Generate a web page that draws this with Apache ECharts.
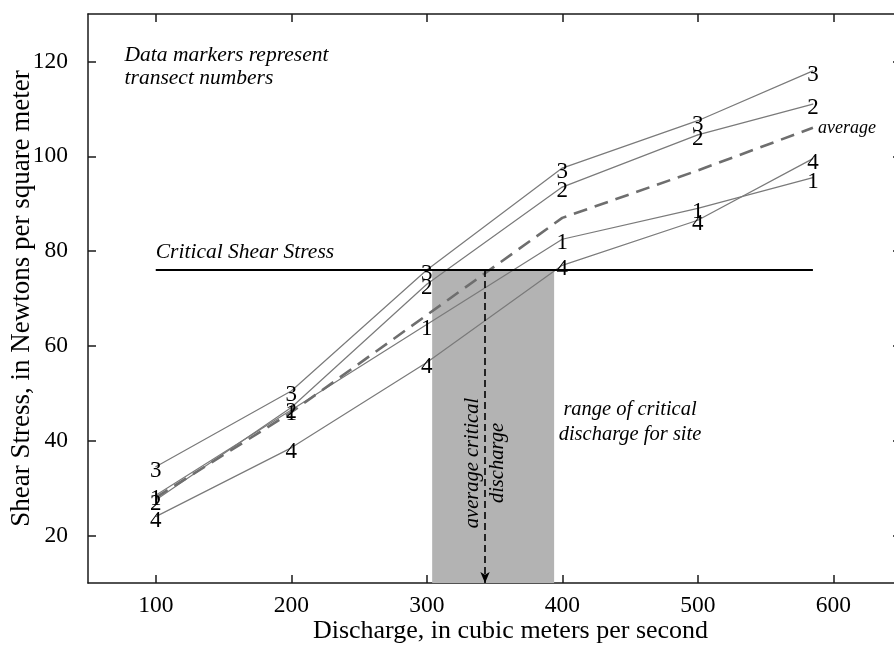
<!DOCTYPE html>
<html>
<head>
<meta charset="utf-8">
<script src="https://cdn.jsdelivr.net/npm/echarts@6/dist/echarts.min.js"></script>
<style>
  html, body { margin: 0; padding: 0; background: #fff; }
  #chart { width: 894px; height: 653px; }
</style>
</head>
<body>
<div id="chart"></div>
<script>
// Discharge (m³/s) at which each transect was evaluated
const discharge = [100, 200, 300, 400, 500, 585];

// Shear stress (N/m²) per transect
const transect1 = [28.5, 46.5, 64.5, 82.5, 89, 95.5];
const transect2 = [27.5, 47, 73, 93.5, 104.5, 111];
const transect3 = [34.5, 50.5, 76, 97.5, 107.5, 118];
const transect4 = [24, 38.5, 56.5, 77, 86.5, 99.5];
const averageStress = [28, 46, 66.5, 87, 97, 106];

// Critical shear stress and discharge range for the site
const criticalStress = 76;
const criticalRange = [304, 394];
const averageCriticalDischarge = 343;

const xTicks = [100, 200, 300, 400, 500, 600];
const yTicks = [20, 40, 60, 80, 100, 120];

const SERIF = '"Liberation Serif", "Times New Roman", serif';
const LINE_GRAY = '#7a7a7a';

const zip = (xs, ys) => xs.map((x, i) => [x, ys[i]]);

function transectSeries(name, values) {
  return {
    name: name,
    type: 'line',
    data: zip(discharge, values),
    z: 3,
    symbol: 'circle',
    symbolSize: 1,
    itemStyle: { color: LINE_GRAY },
    lineStyle: { color: LINE_GRAY, width: 1.2 },
    label: {
      show: true,
      position: 'inside',
      offset: [0, 4],
      formatter: name,
      fontFamily: SERIF,
      fontSize: 23,
      color: '#000'
    },
    animation: false
  };
}

const chart = echarts.init(document.getElementById('chart'), null, { renderer: 'canvas' });

const axisLineStyle = { color: '#1a1a1a', width: 1.5 };

const option = {
  backgroundColor: '#fff',
  animation: false,
  grid: { left: 88, top: 14, right: -7, bottom: 70, containLabel: false, outerBoundsMode: 'none' },
  xAxis: [
    {
      type: 'value', min: 50, max: 650,
      name: 'Discharge, in cubic meters per second',
      nameLocation: 'middle', nameGap: 35,
      nameMoveOverlap: false,
      nameTextStyle: { fontFamily: SERIF, fontSize: 26, color: '#000', padding: [0, 0, 0, 32] },
      axisLine: { show: true, onZero: false, lineStyle: axisLineStyle },
      axisTick: { show: true, inside: true, length: 8, customValues: xTicks, lineStyle: axisLineStyle },
      axisLabel: { customValues: xTicks, margin: 11, fontFamily: SERIF, fontSize: 23.5, color: '#000' },
      splitLine: { show: false }
    },
    {
      type: 'value', min: 50, max: 650, position: 'top',
      axisLine: { show: true, onZero: false, lineStyle: axisLineStyle },
      axisTick: { show: true, inside: true, length: 8, customValues: xTicks, lineStyle: axisLineStyle },
      axisLabel: { show: false },
      splitLine: { show: false }
    }
  ],
  yAxis: [
    {
      type: 'value', min: 10, max: 130,
      name: 'Shear Stress, in Newtons per square meter',
      nameLocation: 'middle', nameGap: 53,
      nameMoveOverlap: false,
      nameTextStyle: { fontFamily: SERIF, fontSize: 27, color: '#000' },
      axisLine: { show: true, onZero: false, lineStyle: axisLineStyle },
      axisTick: { show: true, inside: true, length: 8, customValues: yTicks, lineStyle: axisLineStyle },
      axisLabel: { customValues: yTicks, margin: 20, fontFamily: SERIF, fontSize: 23.5, color: '#000' },
      splitLine: { show: false }
    },
    {
      type: 'value', min: 10, max: 130, position: 'right',
      axisLine: { show: true, onZero: false, lineStyle: axisLineStyle },
      axisTick: { show: true, inside: true, length: 8, customValues: yTicks, lineStyle: axisLineStyle },
      axisLabel: { show: false },
      splitLine: { show: false }
    }
  ],
  series: [
    // Critical shear stress threshold, with the critical discharge band and arrow
    {
      name: 'Critical Shear Stress',
      type: 'line',
      data: [[discharge[0], criticalStress], [discharge[discharge.length - 1], criticalStress]],
      symbol: 'none',
      z: 4,
      lineStyle: { color: '#000', width: 2 },
      markArea: {
        silent: true,
        itemStyle: { color: '#b3b3b3', opacity: 1 },
        data: [[{ coord: [criticalRange[0], 10] }, { coord: [criticalRange[1], criticalStress] }]]
      },
      markLine: {
        silent: true,
        symbol: ['none', 'arrow'],
        symbolSize: [7, 11],
        label: { show: false },
        lineStyle: { color: '#000', type: [7, 4], width: 1.6 },
        data: [[{ coord: [averageCriticalDischarge, criticalStress] }, { coord: [averageCriticalDischarge, 10] }]]
      }
    },
    transectSeries('1', transect1),
    transectSeries('2', transect2),
    transectSeries('3', transect3),
    transectSeries('4', transect4),
    {
      name: 'average',
      type: 'line',
      data: zip(discharge, averageStress),
      symbol: 'none',
      z: 3,
      lineStyle: { color: '#6e6e6e', width: 2.6, type: [14, 8] },
      endLabel: {
        show: true,
        formatter: 'average',
        distance: 5,
        fontFamily: SERIF,
        fontStyle: 'italic',
        fontSize: 18,
        color: '#000'
      }
    }
  ]
};

chart.setOption(option);

// Italic annotations anchored in data coordinates
function px(x, y) { return chart.convertToPixel({ xAxisIndex: 0, yAxisIndex: 0 }, [x, y]); }

const noteStyle = { fontFamily: SERIF, fontStyle: 'italic', fontSize: 21.5, fill: '#000', lineHeight: 23 };
const pNote = px(77, 123);
const pCrit = px(100, criticalStress);
const pRange = px(450, 44);
const pArrow = px(averageCriticalDischarge, 35.3);

chart.setOption({
  graphic: [
    {
      type: 'text', z: 100, x: pNote[0], y: pNote[1] - 3,
      style: Object.assign({ text: 'Data markers represent\ntransect numbers', textAlign: 'left' }, noteStyle)
    },
    {
      type: 'text', z: 100, x: pCrit[0], y: pCrit[1] - 6,
      style: Object.assign({ text: 'Critical Shear Stress', textAlign: 'left', textVerticalAlign: 'bottom' }, noteStyle)
    },
    {
      type: 'text', z: 100, x: pRange[0], y: pRange[1],
      style: Object.assign({ text: 'range of critical\ndischarge for site', textAlign: 'center', textVerticalAlign: 'middle' }, noteStyle, { fontSize: 20.5, lineHeight: 25 })
    },
    {
      type: 'text', z: 100, x: pArrow[0], y: pArrow[1],
      rotation: Math.PI / 2,
      style: Object.assign({ text: 'average critical\ndischarge', textAlign: 'center', textVerticalAlign: 'middle' }, noteStyle, { fontSize: 20.5, lineHeight: 25 })
    }
  ]
});
</script>
</body>
</html>
